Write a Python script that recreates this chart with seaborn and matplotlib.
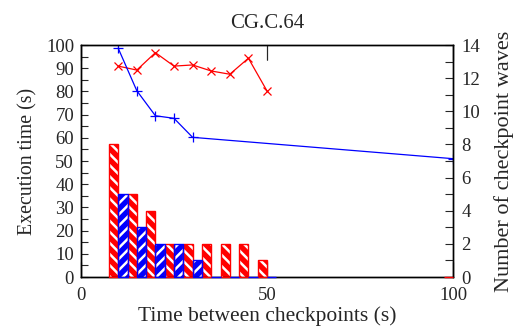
import numpy as np
import pandas as pd
import seaborn as sns
import matplotlib.pyplot as plt
from matplotlib.patches import Rectangle
from matplotlib.ticker import MultipleLocator

# execution time lines (left axis)
red_x = [10, 15, 20, 25, 30, 35, 40, 45, 50]
red_time = [90.9, 89.2, 96.7, 90.9, 91.4, 88.8, 87.4, 94.3, 80.2]
blue_x = [10, 15, 20, 25, 30, 100]
blue_time = [98.6, 80.3, 69.5, 68.4, 60.2, 51.0]

# checkpoint waves bars (right axis)
red_bar_x = [10, 15, 20, 25, 30, 35, 40, 45, 50, 100]
red_waves = [8, 5, 4, 2, 2, 2, 2, 2, 1, 0]
blue_bar_x = [10, 15, 20, 25, 30, 35, 40, 45, 50]
blue_waves = [5, 3, 2, 2, 1, 0, 0, 0, 0]

RED = '#ff0000'
BLUE = '#0000ff'

sns.set_style('ticks')
plt.rcParams['font.family'] = ['Liberation Serif', 'DejaVu Serif']
plt.rcParams['hatch.linewidth'] = 1.8

bars = pd.concat([
    pd.DataFrame({'x': red_bar_x, 'waves': red_waves, 'series': 'A'}),
    pd.DataFrame({'x': blue_bar_x, 'waves': blue_waves, 'series': 'B'}),
], ignore_index=True)

fig = plt.figure(figsize=(5.19, 3.35), dpi=100)
ax = fig.add_axes([81 / 519, 1 - 277 / 335, 372 / 519, 232 / 335])
ax2 = ax.twinx()

sns.barplot(data=bars, x='x', y='waves', hue='series', hue_order=['A', 'B'],
            palette={'A': RED, 'B': BLUE}, native_scale=True, dodge=True,
            width=1.0, saturation=1, errorbar=None, legend=False, ax=ax2)

# white stripes inside, coloured outline on top
for p in list(ax2.patches):
    col = p.get_facecolor()
    p.set_hatch('\\\\\\' if col[0] > 0.5 else '///')
    p.set_edgecolor('white')
    p.set_linewidth(0)
    h = p.get_height()
    y0 = p.get_y() + (0.03 if h == 0 else 0)
    ax2.add_patch(Rectangle((p.get_x(), y0), p.get_width(), h,
                            fill=False, edgecolor=col, lw=1.0, zorder=3,
                            clip_on=False))

sns.lineplot(x=red_x, y=red_time, color=RED, marker='x', markersize=6,
             markeredgecolor=RED, markeredgewidth=0.9, linewidth=0.9, ax=ax)
sns.lineplot(x=blue_x, y=blue_time, color=BLUE, marker='+', markersize=7,
             markeredgecolor=BLUE, markeredgewidth=0.9, linewidth=0.9, ax=ax)

ax.set_xlim(0, 100)
ax.set_ylim(0, 100)
ax2.set_ylim(0, 14)

ax.xaxis.set_major_locator(MultipleLocator(50))
ax.yaxis.set_major_locator(MultipleLocator(10))
ax.yaxis.set_minor_locator(MultipleLocator(5))
ax2.yaxis.set_major_locator(MultipleLocator(2))
ax2.yaxis.set_minor_locator(MultipleLocator(1))

ax.tick_params(axis='x', which='major', direction='in', length=11, width=0.8,
               top=True, labelsize=13.5, pad=7)
ax.tick_params(axis='y', which='both', direction='in', length=5, width=0.8,
               right=False, labelsize=13.5, pad=5)
ax2.tick_params(axis='y', which='both', direction='in', length=5.5, width=0.8,
                labelsize=13.5, pad=6)

# x ticks repeated on the bar axes so they stay above the bars
ax2.xaxis.set_visible(True)
ax2.set_xlabel('')
ax2.tick_params(axis='x', which='major', direction='in', length=11, width=0.8,
                top=True, bottom=True, labelbottom=False, labeltop=False)

for a in (ax, ax2):
    for s in a.spines.values():
        s.set_linewidth(1.0)
        s.set_color('black')

ax.set_xlabel('Time between checkpoints (s)', fontsize=15.5, labelpad=2)
ax.set_ylabel('Execution time (s)', fontsize=14.3, labelpad=6)
ax2.set_ylabel('Number of checkpoint waves', fontsize=16, labelpad=10)
ax.set_title('CG.C.64', fontsize=15, pad=12)

fig.savefig('out.png', dpi=100)
